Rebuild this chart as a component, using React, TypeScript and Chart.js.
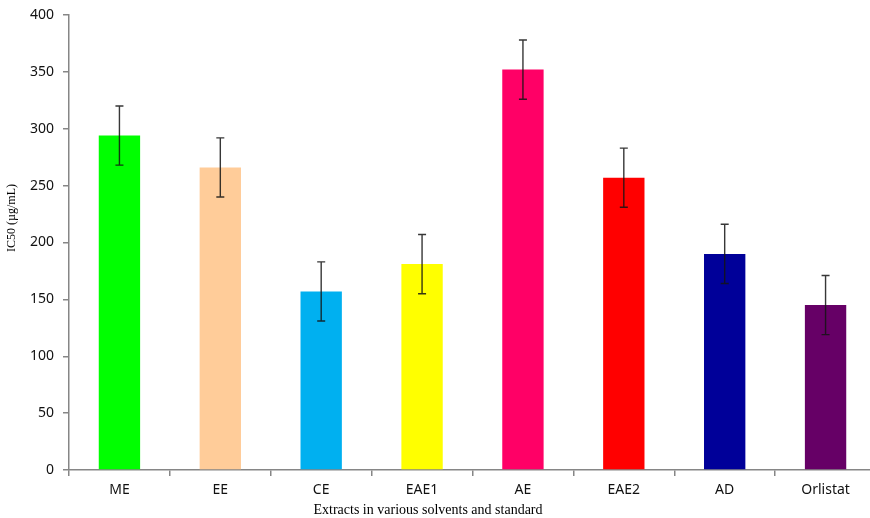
import React, { useEffect, useRef } from "react";
import { Chart, registerables } from "chart.js";

Chart.register(...registerables);

const categories = ["ME", "EE", "CE", "EAE1", "AE", "EAE2", "AD", "Orlistat"];
const ic50Values = [294, 266, 157, 181, 352, 257, 190, 145];
const ic50Errors = [26, 26, 26, 26, 26, 26, 26, 26];
const barColors = [
  "#00FF00",
  "#FFCC99",
  "#00B0F0",
  "#FFFF00",
  "#FF0066",
  "#FF0000",
  "#000099",
  "#660066",
];
const yTicks = [0, 50, 100, 150, 200, 250, 300, 350, 400];
const xAxisTitle = "Extracts in various solvents and standard";
const yAxisTitle = "IC50 (µg/mL)";

const AXIS_GREY = "#868686";

// Draws ± error whiskers on top of each bar using the chart's scales.
const errorBarPlugin = {
  id: "errorBars",
  afterDatasetsDraw(chart: any) {
    const { ctx } = chart;
    const meta = chart.getDatasetMeta(0);
    const yScale = chart.scales.y;
    ctx.save();
    ctx.strokeStyle = "rgba(20,20,20,0.85)";
    ctx.lineWidth = 1.4;
    meta.data.forEach((bar: any, i: number) => {
      const v = ic50Values[i];
      const e = ic50Errors[i];
      const x = bar.x;
      const yTop = yScale.getPixelForValue(v + e);
      const yBot = yScale.getPixelForValue(v - e);
      const cap = 4;
      ctx.beginPath();
      ctx.moveTo(x, yTop);
      ctx.lineTo(x, yBot);
      ctx.moveTo(x - cap, yTop);
      ctx.lineTo(x + cap, yTop);
      ctx.moveTo(x - cap, yBot);
      ctx.lineTo(x + cap, yBot);
      ctx.stroke();
    });
    ctx.restore();
  },
};

// Axis titles in a serif face, placed like the original figure's captions.
const axisTitlePlugin = {
  id: "axisTitles",
  afterDraw(chart: any) {
    const { ctx } = chart;
    ctx.save();
    ctx.fillStyle = "#000000";
    ctx.textAlign = "center";
    ctx.textBaseline = "middle";
    ctx.font = "14px 'Liberation Serif'";
    ctx.fillText(xAxisTitle, 428, 510);
    ctx.translate(12, 218);
    ctx.rotate(-Math.PI / 2);
    ctx.font = "12px 'Liberation Serif'";
    ctx.fillText(yAxisTitle, 0, 0);
    ctx.restore();
  },
};

export default function App() {
  const canvasRef = useRef<HTMLCanvasElement | null>(null);

  useEffect(() => {
    document.documentElement.style.overflow = "hidden";
    document.body.style.overflow = "hidden";
    document.body.style.margin = "0";
    const canvas = canvasRef.current;
    if (!canvas) return;
    const chart = new Chart(canvas, {
      type: "bar",
      data: {
        labels: categories,
        datasets: [
          {
            label: "IC50",
            data: ic50Values,
            backgroundColor: barColors,
            borderWidth: 0,
            categoryPercentage: 1,
            barPercentage: 0.41,
          },
        ],
      },
      options: {
        animation: false,
        responsive: false,
        devicePixelRatio: 1,
        layout: { padding: { top: 15, right: 4, left: 0, bottom: 0 } },
        plugins: {
          legend: { display: false },
          tooltip: { enabled: false },
        },
        scales: {
          x: {
            offset: true,
            border: { display: true, color: AXIS_GREY, width: 1.5 },
            grid: {
              offset: true,
              drawOnChartArea: false,
              drawTicks: true,
              tickLength: 6,
              color: AXIS_GREY,
              lineWidth: 1.5,
            },
            ticks: {
              color: "#111111",
              font: { family: "Noto Sans", size: 14 },
              padding: 6,
              maxRotation: 0,
            },
            afterFit(scale: any) {
              scale.height = 48;
            },
          },
          y: {
            min: 0,
            max: 400,
            border: { display: true, color: AXIS_GREY, width: 1.5 },
            grid: {
              drawOnChartArea: false,
              drawTicks: true,
              tickLength: 6,
              color: AXIS_GREY,
              lineWidth: 1.5,
            },
            afterBuildTicks(scale: any) {
              scale.ticks = yTicks.map((v) => ({ value: v }));
            },
            ticks: {
              color: "#111111",
              font: { family: "Noto Sans", size: 14, lineHeight: 1 },
              padding: 9,
            },
            afterFit(scale: any) {
              scale.width = 69;
              scale.paddingTop = 0;
            },
          },
        },
      },
      plugins: [errorBarPlugin, axisTitlePlugin],
    });
    return () => chart.destroy();
  }, []);

  return (
    <div style={{ position: "fixed", left: 0, top: 0, width: 880, height: 518 }}>
      <canvas ref={canvasRef} width={880} height={518} />
    </div>
  );
}
